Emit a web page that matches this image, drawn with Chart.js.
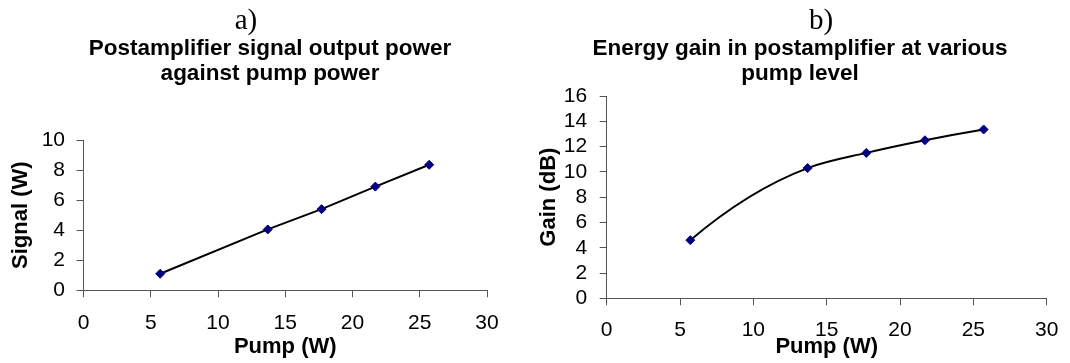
<!DOCTYPE html>
<html>
<head>
<meta charset="utf-8">
<script src="https://cdn.jsdelivr.net/npm/chart.js@4"></script>
<style>
  body { margin: 0; background: #fff; width: 1070px; height: 363px; position: relative; overflow: hidden; }
  .panel { position: absolute; top: 0; }
  .tag { position: absolute; top: 5px; width: 60px; text-align: center;
         font-family: "Liberation Serif", serif; font-size: 29px; line-height: 28px; color: #000; }
</style>
</head>
<body>
<canvas id="chartA" class="panel" width="540" height="363" style="left:0"></canvas>
<canvas id="chartB" class="panel" width="530" height="363" style="left:535px"></canvas>
<div class="tag" style="left:216px">a)</div>
<div class="tag" style="left:791px">b)</div>

<script>
// a) signal output vs pump
const pumpA = [5.7, 13.7, 17.7, 21.7, 25.7];
const signalA = [1.1, 4.05, 5.4, 6.9, 8.35];

// b) gain vs pump
const pumpB = [5.7, 13.7, 17.7, 21.7, 25.7];
const gainB = [4.6, 10.3, 11.5, 12.5, 13.35];

const pumpTicks = [0, 5, 10, 15, 20, 25, 30];
const signalTicks = [0, 2, 4, 6, 8, 10];
const gainTicks = [0, 2, 4, 6, 8, 10, 12, 14, 16];

const axisColor = '#555';
const tickFont = { family: 'Liberation Sans', size: 21 };
const labelFont = { family: 'Liberation Sans', size: 22, weight: 'bold' };
const titleFont = { family: 'Liberation Sans', size: 22.5, weight: 'bold', lineHeight: 25 / 22.5 };

// smoothed line: each point gets the slope of the parabola through it and its
// neighbours (end points use the parabola through the first/last three points)
const smoothCurve = {
  id: 'smoothCurve',
  beforeDatasetDraw(chart, args) {
    const meta = args.meta;
    const pts = meta.data;
    const n = pts.length;
    if (n < 3) return;
    meta.dataset.updateControlPoints(chart.chartArea, meta.indexAxis);
    const h = [], s = [];
    for (let i = 0; i < n - 1; i++) {
      h.push(pts[i + 1].x - pts[i].x);
      s.push((pts[i + 1].y - pts[i].y) / h[i]);
    }
    const m = pts.map((p, i) => {
      if (i === 0) return s[0] + (s[0] - s[1]) * h[0] / (h[0] + h[1]);
      if (i === n - 1) return s[n - 2] + (s[n - 2] - s[n - 3]) * h[n - 2] / (h[n - 3] + h[n - 2]);
      return (h[i] * s[i - 1] + h[i - 1] * s[i]) / (h[i - 1] + h[i]);
    });
    pts.forEach((p, i) => {
      if (i > 0) { p.cp1x = p.x - h[i - 1] / 3; p.cp1y = p.y - m[i] * h[i - 1] / 3; }
      if (i < n - 1) { p.cp2x = p.x + h[i] / 3; p.cp2y = p.y + m[i] * h[i] / 3; }
    });
  }
};

// force the axis box to a fixed size so the plot area lands where we want it
function fixBox(size, horizontal) {
  return (scale) => {
    if (horizontal) scale.height = size;
    else scale.width = size;
    scale.paddingLeft = scale.paddingRight = scale.paddingTop = scale.paddingBottom = 0;
  };
}

function axis(ticks, text, tickPad, titlePad, box, horizontal) {
  return {
    type: 'linear',
    position: horizontal ? 'bottom' : 'left',
    min: ticks[0],
    max: ticks[ticks.length - 1],
    afterBuildTicks: (scale) => { scale.ticks = ticks.map(v => ({ value: v })); },
    ticks: { color: '#000', font: tickFont, padding: tickPad, autoSkip: false, maxRotation: 0 },
    grid: { drawOnChartArea: false, tickLength: 7, tickColor: axisColor, tickWidth: 1 },
    border: { color: axisColor, width: 1 },
    title: { display: true, text, color: '#000', font: labelFont, padding: titlePad },
    afterFit: fixBox(box, horizontal),
  };
}

// empty strip on the right, so the chart title stays centred on the whole panel
function rightGap(width) {
  return {
    type: 'linear',
    position: 'right',
    ticks: { display: false },
    grid: { display: false },
    border: { display: false },
    afterFit: fixBox(width, false),
  };
}

function makeChart(id, xs, ys, opts) {
  const ctx = document.getElementById(id).getContext('2d');
  return new Chart(ctx, {
    type: 'scatter',
    data: {
      datasets: [{
        data: xs.map((x, i) => ({ x, y: ys[i] })),
        showLine: true,
        borderColor: '#000',
        borderWidth: 2,
        tension: opts.smooth ? 0.4 : 0,
        pointStyle: 'rectRot',
        pointRadius: 4.5,
        pointBackgroundColor: '#000080',
        pointBorderColor: '#000080',
        pointBorderWidth: 1,
      }]
    },
    plugins: opts.smooth ? [smoothCurve] : [],
    options: {
      responsive: false,
      animation: false,
      layout: { padding: 0 },
      plugins: {
        legend: { display: false },
        tooltip: { enabled: false },
        title: {
          display: true,
          text: opts.title,
          color: '#000',
          font: titleFont,
          padding: opts.titlePad,
        },
      },
      scales: {
        x: axis(pumpTicks, 'Pump (W)', opts.xTickPad, { top: 0, bottom: 2.8 }, opts.xBox, true),
        y: axis(opts.yTicks, opts.yLabel, opts.yTickPad, { top: opts.yTitleOffset, bottom: 0 }, opts.yBox, false),
        gap: rightGap(opts.padRight),
      },
    },
  });
}

makeChart('chartA', pumpA, signalA, {
  title: ['Postamplifier signal output power', 'against pump power'],
  titlePad: { top: 35.8, bottom: 54.2 },
  yTicks: signalTicks,
  yLabel: 'Signal (W)',
  yTitleOffset: 7.8,
  yBox: 83.5,
  xBox: 72.7,
  xTickPad: 13.1,
  yTickPad: 11.5,
  padRight: 53,
  smooth: false,
});

makeChart('chartB', pumpB, gainB, {
  title: ['Energy gain in postamplifier at various', 'pump level'],
  titlePad: { top: 35.8, bottom: 10.2 },
  yTicks: gainTicks,
  yLabel: 'Gain (dB)',
  yTitleOffset: 0.3,
  yBox: 71.7,
  xBox: 64.7,
  xTickPad: 12.1,
  yTickPad: 12.5,
  padRight: 18.3,
  smooth: true,
});
</script>
</body>
</html>
